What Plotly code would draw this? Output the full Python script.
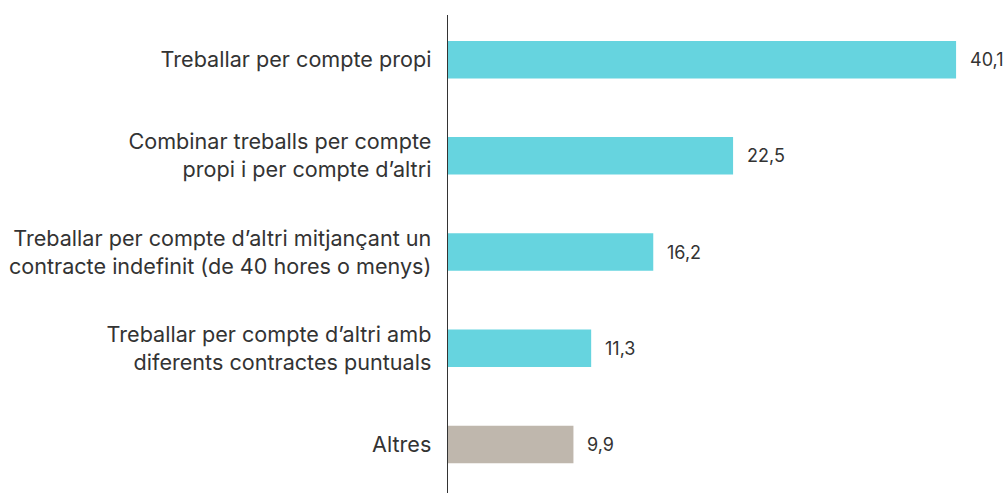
import plotly.graph_objects as go

categories = [
    "Treballar per compte propi",
    "Combinar treballs per compte<br>propi i per compte d’altri",
    "Treballar per compte d’altri mitjançant un<br>contracte indefinit (de 40 hores o menys)",
    "Treballar per compte d’altri amb<br>diferents contractes puntuals",
    "Altres",
]
values = [40.1, 22.5, 16.2, 11.3, 9.9]
value_labels = ["40,1", "22,5", "16,2", "11,3", "9,9"]
colors = ["#66D4DF", "#66D4DF", "#66D4DF", "#66D4DF", "#BFB7AD"]

FONT = "Inter"
TXT = "#333333"

fig = go.Figure(
    go.Bar(
        x=values,
        y=categories,
        orientation="h",
        marker=dict(color=colors, line=dict(width=0)),
        width=0.39,
        hoverinfo="skip",
    )
)

for v, c, lab in zip(values, categories, value_labels):
    fig.add_annotation(
        x=v, y=c, text=lab, showarrow=False, xanchor="left", yanchor="middle",
        xshift=12, font=dict(family=FONT, size=18, color=TXT),
    )

fig.update_layout(
    width=1006, height=493,
    margin=dict(l=448, r=0, t=15, b=0),
    paper_bgcolor="white", plot_bgcolor="white",
    showlegend=False,
    font=dict(family=FONT, size=21.6, color=TXT),
    xaxis=dict(range=[0, 44.04], visible=False, showgrid=False, zeroline=False),
    yaxis=dict(
        type="category",
        range=[4.505, -0.464],
        showline=True, linecolor="#333333", linewidth=1.3,
        showgrid=False, zeroline=False,
        ticks="outside", ticklen=11, tickcolor="rgba(0,0,0,0)",
        tickfont=dict(family=FONT, size=21.6, color=TXT),
    ),
)

fig.write_html(
    "out.html",
    config={"displayModeBar": False, "staticPlot": True},
    post_script="document.body.style.margin='0';document.body.style.overflow='hidden';",
)
